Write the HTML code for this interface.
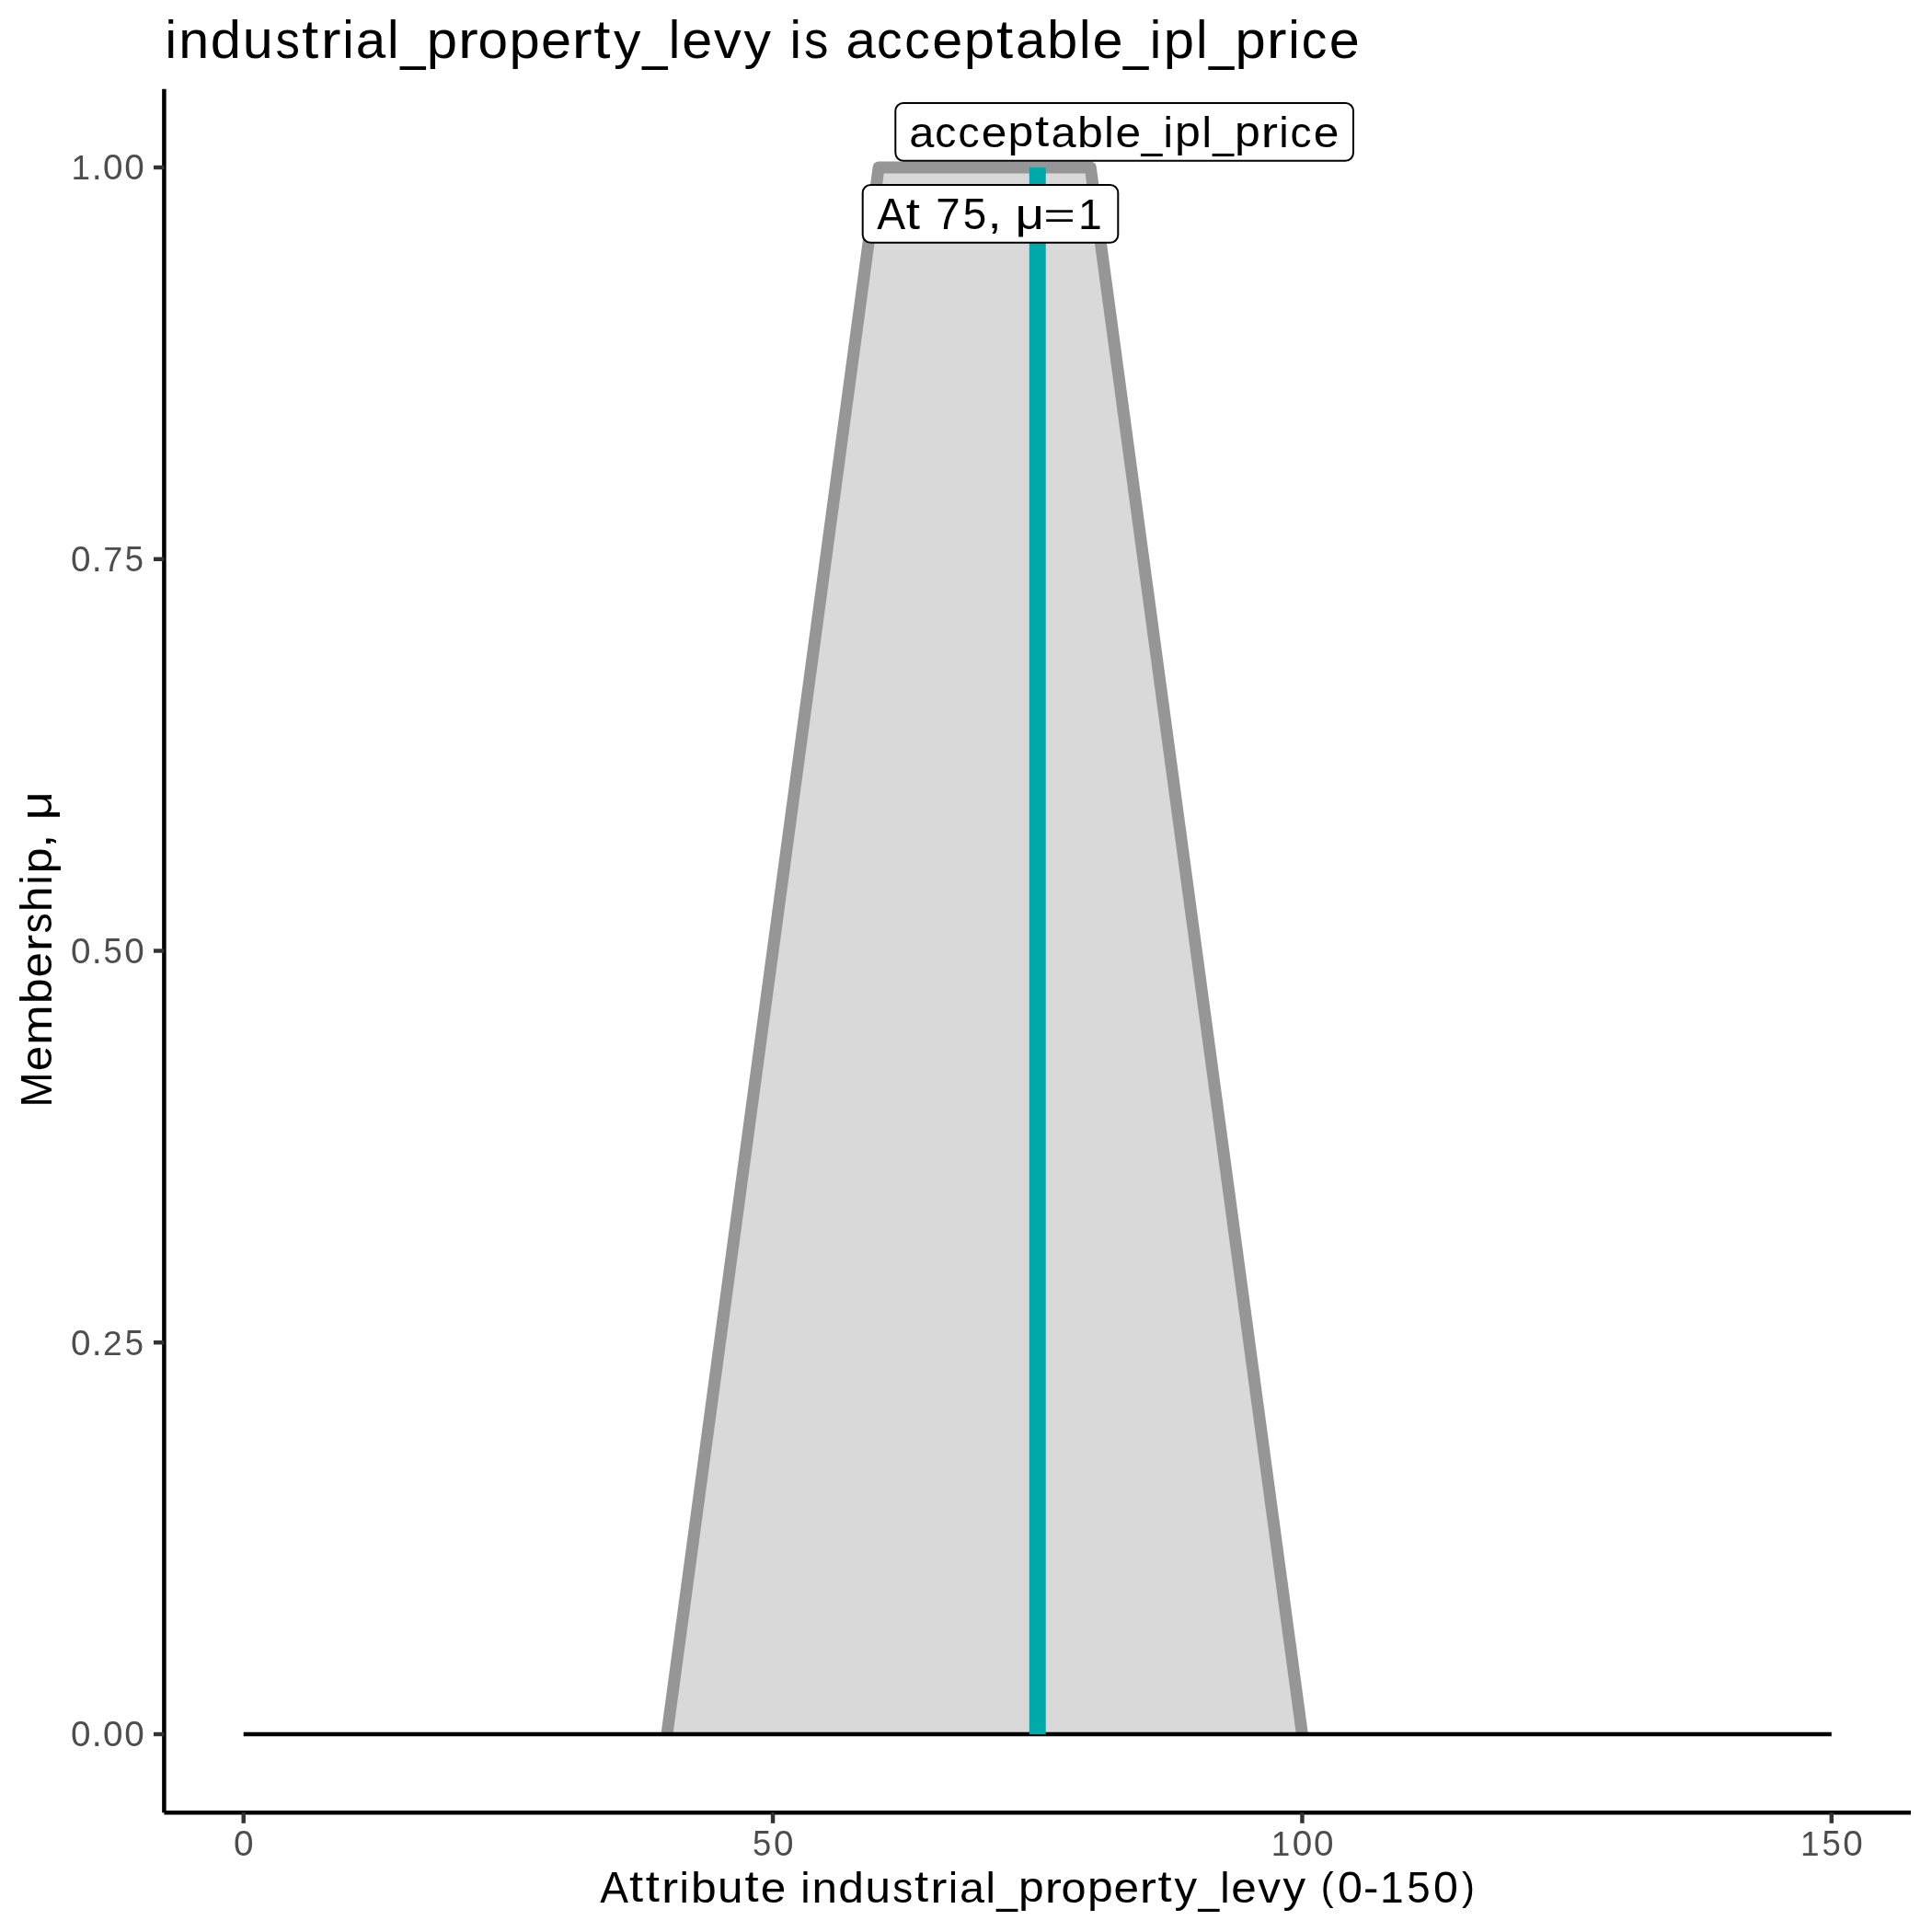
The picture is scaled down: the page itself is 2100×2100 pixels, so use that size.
<!DOCTYPE html>
<html>
<head>
<meta charset="utf-8">
<style>
html,body{margin:0;padding:0;background:#ffffff;width:2100px;height:2100px;overflow:hidden;}
svg{display:block;will-change:transform;}
text{font-family:"Liberation Sans",sans-serif;}
</style>
</head>
<body>
<svg width="2100" height="2100" viewBox="0 0 2100 2100">
<rect x="0" y="0" width="2100" height="2100" fill="#ffffff"/>
<polygon points="725.0,1885.0 955.1,182.0 1185.3,182.0 1415.4,1885.0" fill="#d9d9d9"/>
<polyline points="725.0,1885.0 955.1,182.0 1185.3,182.0 1415.4,1885.0" fill="none" stroke="#969696" stroke-width="13" stroke-linejoin="round" stroke-linecap="butt"/>
<line x1="264.70" y1="1885.0" x2="1990.80" y2="1885.0" stroke="#000000" stroke-width="4.3"/>
<line x1="1127.75" y1="182.0" x2="1127.75" y2="1885.0" stroke="#00aaaa" stroke-width="18"/>
<rect x="973.3" y="111.9" width="497.7" height="62.8" rx="8.6" ry="8.6" fill="#ffffff" stroke="#000000" stroke-width="2"/>
<g fill="#000000"><text transform="matrix(1.0247 0 0 0.9803 988.19 159.87)" font-size="47.61">a</text><text transform="matrix(0.9695 0 0 0.9803 1016.26 159.87)" font-size="47.61">c</text><text transform="matrix(0.9695 0 0 0.9803 1041.55 159.87)" font-size="47.61">c</text><text transform="matrix(1.0436 0 0 0.9803 1066.69 159.87)" font-size="47.61">e</text><text transform="matrix(1.0512 0 0 0.9641 1095.51 159.44)" font-size="47.61">p</text><text transform="matrix(1.1500 0 0 1.0037 1125.03 159.33)" font-size="47.61">t</text><text transform="matrix(1.0247 0 0 0.9803 1142.49 159.87)" font-size="47.61">a</text><text transform="matrix(1.0512 0 0 0.9856 1170.94 159.87)" font-size="47.61">b</text><text transform="matrix(0.9877 0 0 0.9806 1200.35 159.70)" font-size="47.61">l</text><text transform="matrix(1.0436 0 0 0.9803 1212.40 159.87)" font-size="47.61">e</text><text transform="matrix(0.8617 0 0 1.0288 1240.44 160.47)" font-size="47.61">_</text><text transform="matrix(0.9877 0 0 0.9806 1264.46 159.70)" font-size="47.61">i</text><text transform="matrix(1.0512 0 0 0.9641 1277.00 159.44)" font-size="47.61">p</text><text transform="matrix(0.9877 0 0 0.9806 1306.42 159.70)" font-size="47.61">l</text><text transform="matrix(0.8617 0 0 1.0288 1318.20 160.47)" font-size="47.61">_</text><text transform="matrix(1.0512 0 0 0.9641 1341.98 159.44)" font-size="47.61">p</text><text transform="matrix(1.1500 0 0 0.9735 1370.78 159.70)" font-size="47.61">r</text><text transform="matrix(0.9877 0 0 0.9806 1390.33 159.70)" font-size="47.61">i</text><text transform="matrix(0.9695 0 0 0.9803 1402.50 159.87)" font-size="47.61">c</text><text transform="matrix(1.0436 0 0 0.9803 1427.63 159.87)" font-size="47.61">e</text></g>
<rect x="937.7" y="201" width="277.6" height="62.8" rx="8.6" ry="8.6" fill="#ffffff" stroke="#000000" stroke-width="2"/>
<g fill="#000000"><text transform="matrix(0.9733 0 0 0.9910 953.37 248.90)" font-size="47.61">A</text><text transform="matrix(1.1500 0 0 1.0037 984.82 248.53)" font-size="47.61">t</text><text transform="matrix(0.9963 0 0 0.9910 1017.34 248.90)" font-size="47.61">7</text><text transform="matrix(0.9612 0 0 0.9961 1046.79 249.07)" font-size="47.61">5</text><text transform="matrix(1.1500 0 0 0.9567 1073.39 248.25)" font-size="47.61">,</text><text transform="matrix(1.1500 0 0 0.9803 1103.62 249.21)" font-size="47.61">&#956;</text><text transform="matrix(1.2449 0 0 0.8191 1134.27 247.80)" font-size="47.61">=</text><text transform="matrix(0.9727 0 0 0.9910 1172.09 248.90)" font-size="47.61">1</text></g>
<line x1="178.4" y1="96.8" x2="178.4" y2="1970.3" stroke="#000000" stroke-width="4.5"/>
<line x1="178.4" y1="1970.3" x2="2077" y2="1970.3" stroke="#000000" stroke-width="4.5"/>
<g stroke="#333333" stroke-width="4.45"><line x1="167" y1="182.00" x2="178.4" y2="182.00"/><line x1="167" y1="607.75" x2="178.4" y2="607.75"/><line x1="167" y1="1033.50" x2="178.4" y2="1033.50"/><line x1="167" y1="1459.25" x2="178.4" y2="1459.25"/><line x1="167" y1="1885.00" x2="178.4" y2="1885.00"/></g>
<g stroke="#333333" stroke-width="4.45"><line x1="264.70" y1="1970.3" x2="264.70" y2="1981.8"/><line x1="840.07" y1="1970.3" x2="840.07" y2="1981.8"/><line x1="1415.43" y1="1970.3" x2="1415.43" y2="1981.8"/><line x1="1990.80" y1="1970.3" x2="1990.80" y2="1981.8"/></g>
<g fill="#000000"><text transform="matrix(0.9877 0 0 1.0131 179.42 63.10)" font-size="56.92">i</text><text transform="matrix(1.0417 0 0 1.0056 194.32 63.10)" font-size="56.92">n</text><text transform="matrix(1.0501 0 0 1.0182 228.65 63.31)" font-size="56.92">d</text><text transform="matrix(1.0417 0 0 1.0311 263.87 63.31)" font-size="56.92">u</text><text transform="matrix(0.9262 0 0 1.0154 299.42 63.31)" font-size="56.92">s</text><text transform="matrix(1.1500 0 0 1.0368 328.08 62.64)" font-size="56.92">t</text><text transform="matrix(1.1500 0 0 1.0056 348.77 63.10)" font-size="56.92">r</text><text transform="matrix(0.9877 0 0 1.0131 372.16 63.10)" font-size="56.92">i</text><text transform="matrix(1.0247 0 0 1.0127 386.84 63.32)" font-size="56.92">a</text><text transform="matrix(0.9877 0 0 1.0131 421.11 63.10)" font-size="56.92">l</text><text transform="matrix(0.8617 0 0 1.0628 435.21 64.05)" font-size="56.92">_</text><text transform="matrix(1.0512 0 0 0.9959 463.64 62.78)" font-size="56.92">p</text><text transform="matrix(1.1500 0 0 1.0056 498.05 63.10)" font-size="56.92">r</text><text transform="matrix(1.0271 0 0 1.0127 519.39 63.32)" font-size="56.92">o</text><text transform="matrix(1.0512 0 0 0.9959 553.61 62.78)" font-size="56.92">p</text><text transform="matrix(1.0436 0 0 1.0127 587.89 63.32)" font-size="56.92">e</text><text transform="matrix(1.1500 0 0 1.0056 621.87 63.10)" font-size="56.92">r</text><text transform="matrix(1.1500 0 0 1.0368 645.34 62.64)" font-size="56.92">t</text><text transform="matrix(1.0376 0 0 0.9912 666.88 62.83)" font-size="56.92">y</text><text transform="matrix(0.8617 0 0 1.0628 698.14 64.05)" font-size="56.92">_</text><text transform="matrix(0.9877 0 0 1.0131 726.83 63.10)" font-size="56.92">l</text><text transform="matrix(1.0436 0 0 1.0127 741.23 63.32)" font-size="56.92">e</text><text transform="matrix(1.0427 0 0 1.0001 776.00 63.10)" font-size="56.92">v</text><text transform="matrix(1.0376 0 0 0.9912 808.60 62.83)" font-size="56.92">y</text><text transform="matrix(0.9877 0 0 1.0131 858.56 63.10)" font-size="56.92">i</text><text transform="matrix(0.9262 0 0 1.0154 873.94 63.31)" font-size="56.92">s</text><text transform="matrix(1.0247 0 0 1.0127 919.39 63.32)" font-size="56.92">a</text><text transform="matrix(0.9695 0 0 1.0127 952.96 63.32)" font-size="56.92">c</text><text transform="matrix(0.9695 0 0 1.0127 983.19 63.32)" font-size="56.92">c</text><text transform="matrix(1.0436 0 0 1.0127 1013.25 63.32)" font-size="56.92">e</text><text transform="matrix(1.0512 0 0 0.9959 1047.72 62.78)" font-size="56.92">p</text><text transform="matrix(1.1500 0 0 1.0368 1083.00 62.64)" font-size="56.92">t</text><text transform="matrix(1.0247 0 0 1.0127 1103.89 63.32)" font-size="56.92">a</text><text transform="matrix(1.0512 0 0 1.0182 1137.90 63.31)" font-size="56.92">b</text><text transform="matrix(0.9877 0 0 1.0131 1173.07 63.10)" font-size="56.92">l</text><text transform="matrix(1.0436 0 0 1.0127 1187.46 63.32)" font-size="56.92">e</text><text transform="matrix(0.8617 0 0 1.0628 1221.00 64.05)" font-size="56.92">_</text><text transform="matrix(0.9877 0 0 1.0131 1249.72 63.10)" font-size="56.92">i</text><text transform="matrix(1.0512 0 0 0.9959 1264.72 62.78)" font-size="56.92">p</text><text transform="matrix(0.9877 0 0 1.0131 1299.88 63.10)" font-size="56.92">l</text><text transform="matrix(0.8617 0 0 1.0628 1313.97 64.05)" font-size="56.92">_</text><text transform="matrix(1.0512 0 0 0.9959 1342.40 62.78)" font-size="56.92">p</text><text transform="matrix(1.1500 0 0 1.0056 1376.82 63.10)" font-size="56.92">r</text><text transform="matrix(0.9877 0 0 1.0131 1400.20 63.10)" font-size="56.92">i</text><text transform="matrix(0.9695 0 0 1.0127 1414.75 63.32)" font-size="56.92">c</text><text transform="matrix(1.0436 0 0 1.0127 1444.82 63.32)" font-size="56.92">e</text></g>
<g fill="#000000"><text transform="matrix(0.9733 0 0 0.9982 652.37 2067.70)" font-size="47.44">A</text><text transform="matrix(1.1500 0 0 1.0109 683.89 2067.33)" font-size="47.44">t</text><text transform="matrix(1.1500 0 0 1.0109 701.86 2067.33)" font-size="47.44">t</text><text transform="matrix(1.1500 0 0 0.9805 719.11 2067.70)" font-size="47.44">r</text><text transform="matrix(0.9877 0 0 0.9877 738.60 2067.70)" font-size="47.44">i</text><text transform="matrix(1.0512 0 0 0.9928 751.10 2067.87)" font-size="47.44">b</text><text transform="matrix(1.0417 0 0 1.0053 779.93 2067.87)" font-size="47.44">u</text><text transform="matrix(1.1500 0 0 1.0109 809.55 2067.33)" font-size="47.44">t</text><text transform="matrix(1.0436 0 0 0.9874 826.68 2067.88)" font-size="47.44">e</text><text transform="matrix(0.9877 0 0 0.9877 870.21 2067.70)" font-size="47.44">i</text><text transform="matrix(1.0417 0 0 0.9805 882.62 2067.70)" font-size="47.44">n</text><text transform="matrix(1.0501 0 0 0.9928 911.22 2067.87)" font-size="47.44">d</text><text transform="matrix(1.0417 0 0 1.0053 940.57 2067.87)" font-size="47.44">u</text><text transform="matrix(0.9262 0 0 0.9900 970.19 2067.87)" font-size="47.44">s</text><text transform="matrix(1.1500 0 0 1.0109 994.06 2067.33)" font-size="47.44">t</text><text transform="matrix(1.1500 0 0 0.9805 1011.31 2067.70)" font-size="47.44">r</text><text transform="matrix(0.9877 0 0 0.9877 1030.80 2067.70)" font-size="47.44">i</text><text transform="matrix(1.0247 0 0 0.9874 1043.04 2067.88)" font-size="47.44">a</text><text transform="matrix(0.9877 0 0 0.9877 1071.59 2067.70)" font-size="47.44">l</text><text transform="matrix(0.8617 0 0 1.0362 1083.33 2068.47)" font-size="47.44">_</text><text transform="matrix(1.0512 0 0 0.9710 1107.03 2067.44)" font-size="47.44">p</text><text transform="matrix(1.1500 0 0 0.9805 1135.70 2067.70)" font-size="47.44">r</text><text transform="matrix(1.0271 0 0 0.9874 1153.49 2067.88)" font-size="47.44">o</text><text transform="matrix(1.0512 0 0 0.9710 1181.99 2067.44)" font-size="47.44">p</text><text transform="matrix(1.0436 0 0 0.9874 1210.56 2067.88)" font-size="47.44">e</text><text transform="matrix(1.1500 0 0 0.9805 1238.86 2067.70)" font-size="47.44">r</text><text transform="matrix(1.1500 0 0 1.0109 1258.42 2067.33)" font-size="47.44">t</text><text transform="matrix(1.0376 0 0 0.9664 1276.38 2067.48)" font-size="47.44">y</text><text transform="matrix(0.8617 0 0 1.0362 1302.43 2068.47)" font-size="47.44">_</text><text transform="matrix(0.9877 0 0 0.9877 1326.34 2067.70)" font-size="47.44">l</text><text transform="matrix(1.0436 0 0 0.9874 1338.32 2067.88)" font-size="47.44">e</text><text transform="matrix(1.0427 0 0 0.9751 1367.30 2067.70)" font-size="47.44">v</text><text transform="matrix(1.0376 0 0 0.9664 1394.47 2067.48)" font-size="47.44">y</text><text transform="matrix(0.8800 0 0 0.9006 1435.86 2064.75)" font-size="47.44">(</text><text transform="matrix(1.0185 0 0 1.0063 1453.92 2067.87)" font-size="47.44">0</text><text transform="matrix(1.0415 0 0 0.9656 1481.99 2067.63)" font-size="47.44">-</text><text transform="matrix(0.9727 0 0 0.9982 1500.00 2067.70)" font-size="47.44">1</text><text transform="matrix(0.9612 0 0 1.0033 1529.34 2067.87)" font-size="47.44">5</text><text transform="matrix(1.0185 0 0 1.0063 1557.92 2067.87)" font-size="47.44">0</text><text transform="matrix(0.8800 0 0 0.9006 1588.99 2064.75)" font-size="47.44">)</text></g>
<g transform="translate(55.8,1204.3) rotate(-90)"><g fill="#000000"><text transform="matrix(0.9634 0 0 1.0054 0.75 -0.00)" font-size="47.44">M</text><text transform="matrix(1.0436 0 0 0.9945 39.96 0.18)" font-size="47.44">e</text><text transform="matrix(1.1008 0 0 0.9875 68.43 0.00)" font-size="47.44">m</text><text transform="matrix(1.0512 0 0 0.9999 113.32 0.17)" font-size="47.44">b</text><text transform="matrix(1.0436 0 0 0.9945 141.88 0.18)" font-size="47.44">e</text><text transform="matrix(1.1500 0 0 0.9875 170.20 0.00)" font-size="47.44">r</text><text transform="matrix(0.9262 0 0 0.9971 189.76 0.18)" font-size="47.44">s</text><text transform="matrix(1.0489 0 0 0.9948 213.09 -0.00)" font-size="47.44">h</text><text transform="matrix(0.9877 0 0 0.9948 242.61 -0.00)" font-size="47.44">i</text><text transform="matrix(1.0512 0 0 0.9780 255.10 -0.27)" font-size="47.44">p</text><text transform="matrix(1.1500 0 0 0.9705 282.47 -0.66)" font-size="47.44">,</text><text transform="matrix(1.1500 0 0 0.9945 312.79 0.31)" font-size="47.44">&#956;</text></g>
</g>
<g fill="#4d4d4d"><text transform="matrix(0.9727 0 0 0.9931 77.39 195.35)" font-size="37.95">1</text><text transform="matrix(1.0455 0 0 1.0870 99.79 195.35)" font-size="37.95">.</text><text transform="matrix(1.0185 0 0 1.0012 112.05 195.48)" font-size="37.95">0</text><text transform="matrix(1.0185 0 0 1.0012 135.36 195.48)" font-size="37.95">0</text></g>
<g fill="#4d4d4d"><text transform="matrix(1.0185 0 0 1.0012 77.08 621.23)" font-size="37.95">0</text><text transform="matrix(1.0455 0 0 1.0870 99.79 621.10)" font-size="37.95">.</text><text transform="matrix(0.9963 0 0 0.9931 112.21 621.10)" font-size="37.95">7</text><text transform="matrix(0.9612 0 0 0.9982 135.82 621.23)" font-size="37.95">5</text></g>
<g fill="#4d4d4d"><text transform="matrix(1.0185 0 0 1.0012 77.08 1046.98)" font-size="37.95">0</text><text transform="matrix(1.0455 0 0 1.0870 99.79 1046.85)" font-size="37.95">.</text><text transform="matrix(0.9612 0 0 0.9982 112.51 1046.98)" font-size="37.95">5</text><text transform="matrix(1.0185 0 0 1.0012 135.36 1046.98)" font-size="37.95">0</text></g>
<g fill="#4d4d4d"><text transform="matrix(1.0185 0 0 1.0012 77.08 1472.73)" font-size="37.95">0</text><text transform="matrix(1.0455 0 0 1.0870 99.79 1472.60)" font-size="37.95">.</text><text transform="matrix(0.9817 0 0 0.9962 111.96 1472.60)" font-size="37.95">2</text><text transform="matrix(0.9612 0 0 0.9982 135.82 1472.73)" font-size="37.95">5</text></g>
<g fill="#4d4d4d"><text transform="matrix(1.0185 0 0 1.0012 77.08 1898.48)" font-size="37.95">0</text><text transform="matrix(1.0455 0 0 1.0870 99.79 1898.35)" font-size="37.95">.</text><text transform="matrix(1.0185 0 0 1.0012 112.05 1898.48)" font-size="37.95">0</text><text transform="matrix(1.0185 0 0 1.0012 135.36 1898.48)" font-size="37.95">0</text></g>
<g fill="#4d4d4d"><text transform="matrix(1.0185 0 0 1.0012 253.94 2016.93)" font-size="37.95">0</text></g>
<g fill="#4d4d4d"><text transform="matrix(0.9612 0 0 0.9982 818.11 2016.93)" font-size="37.95">5</text><text transform="matrix(1.0185 0 0 1.0012 840.96 2016.93)" font-size="37.95">0</text></g>
<g fill="#4d4d4d"><text transform="matrix(0.9727 0 0 0.9931 1381.67 2016.80)" font-size="37.95">1</text><text transform="matrix(1.0185 0 0 1.0012 1404.67 2016.93)" font-size="37.95">0</text><text transform="matrix(1.0185 0 0 1.0012 1428.00 2016.93)" font-size="37.95">0</text></g>
<g fill="#4d4d4d"><text transform="matrix(0.9727 0 0 0.9931 1957.03 2016.80)" font-size="37.95">1</text><text transform="matrix(0.9612 0 0 0.9982 1980.50 2016.93)" font-size="37.95">5</text><text transform="matrix(1.0185 0 0 1.0012 2003.36 2016.93)" font-size="37.95">0</text></g>
</svg>
</body>
</html>
